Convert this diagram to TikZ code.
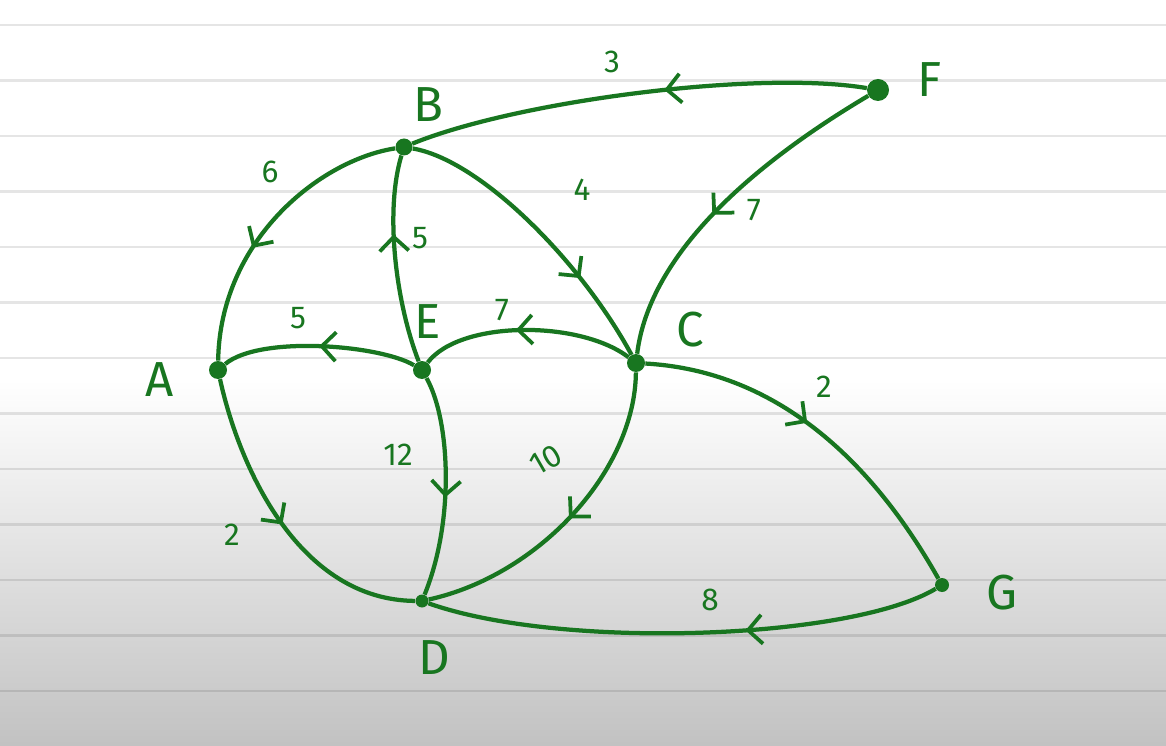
\documentclass[tikz,border=0pt]{standalone}
\usepackage{fontspec}
\setsansfont{Fira Sans}
\usetikzlibrary{arrows.meta,decorations.markings}
\definecolor{ink}{RGB}{24,118,32}

\begin{document}
\begin{tikzpicture}[x=0.2mm,y=-0.2mm,
    dot/.style={circle,fill=ink,inner sep=0pt,minimum size=#1},
    lbl/.style={font=\sffamily\fontsize{28}{28}\selectfont,text=ink},
    wt/.style={font=\sffamily\fontsize{18}{18}\selectfont,text=ink,inner sep=1pt},
    road/.style={draw=ink,line width=0.85mm,postaction={decorate},
      decoration={markings,mark=at position #1 with {\arrow{Straight Barb[length=2.8mm,width=5.8mm,line width=0.75mm]}}}}]
  \useasboundingbox (0,0) rectangle (1166,746);
  % paper
  \fill[white] (0,0) rectangle (1166,746);
  \shade[top color=white,bottom color=black!24] (0,380) rectangle (1166,746);
  \foreach \i in {0,...,12}
    \draw[black,opacity=0.1,line width=0.5mm] (0,25+55.5*\i) -- (1166,25+55.5*\i);

  % vertices
  \foreach \n/\x/\y/\s in {A/218/370/3.6mm,B/404/147/3.4mm,C/636/363/3.6mm,D/422/601/2.6mm,
                           E/422/370/3.6mm,F/878/90/4.4mm,G/942/585/2.8mm}
    \node[dot=\s] (\n) at (\x,\y) {};
  \foreach \n/\x/\y in {A/160/380,B/428/105,C/690/330,D/434/658,E/428/322,F/930/80,G/1002/593}
    \node[lbl] (t\n) at (\x,\y) {\n};

  % edges
  \draw[road=0.44] (F) .. controls (760,70) and (520,100) .. (B);
  \draw[road=0.60] (B) .. controls (320,160) and (220,240) .. (A);
  \draw[road=0.62] (E) .. controls (395,300) and (385,210) .. (B);
  \draw[road=0.70] (B) .. controls (480,160) and (580,260) .. (C);
  \draw[road=0.55] (F) .. controls (760,160) and (650,250) .. (C);
  \draw[road=0.50] (E) .. controls (380,345) and (260,335) .. (A);
  \draw[road=0.55] (C) .. controls (580,320) and (460,320) .. (E);
  \draw[road=0.46] (C) .. controls (760,370) and (860,440) .. (G);
  \draw[road=0.55] (E) .. controls (450,420) and (455,520) .. (D);
  \draw[road=0.50] (C) .. controls (635,470) and (540,575) .. (D);
  \draw[road=0.50] (A) .. controls (240,470) and (300,600) .. (D);
  \draw[road=0.38] (G) .. controls (850,640) and (560,650) .. (D);

  % weights
  \node[wt] (w1) at (612,62) {3};
  \node[wt] (w2) at (270,172) {6};
  \node[wt] (w3) at (420,238) {5};
  \node[wt] (w4) at (582,190) {4};
  \node[wt] (w5) at (754,210) {7};
  \node[wt] (w6) at (298,318) {5};
  \node[wt] (w7) at (502,310) {7};
  \node[wt] (w8) at (824,387) {2};
  \node[wt] (w9) at (398,455) {12};
  \node[wt,rotate=30] (w10) at (546,460) {10};
  \node[wt] (w11) at (232,535) {2};
  \node[wt] (w12) at (710,600) {8};
\end{tikzpicture}
\end{document}
